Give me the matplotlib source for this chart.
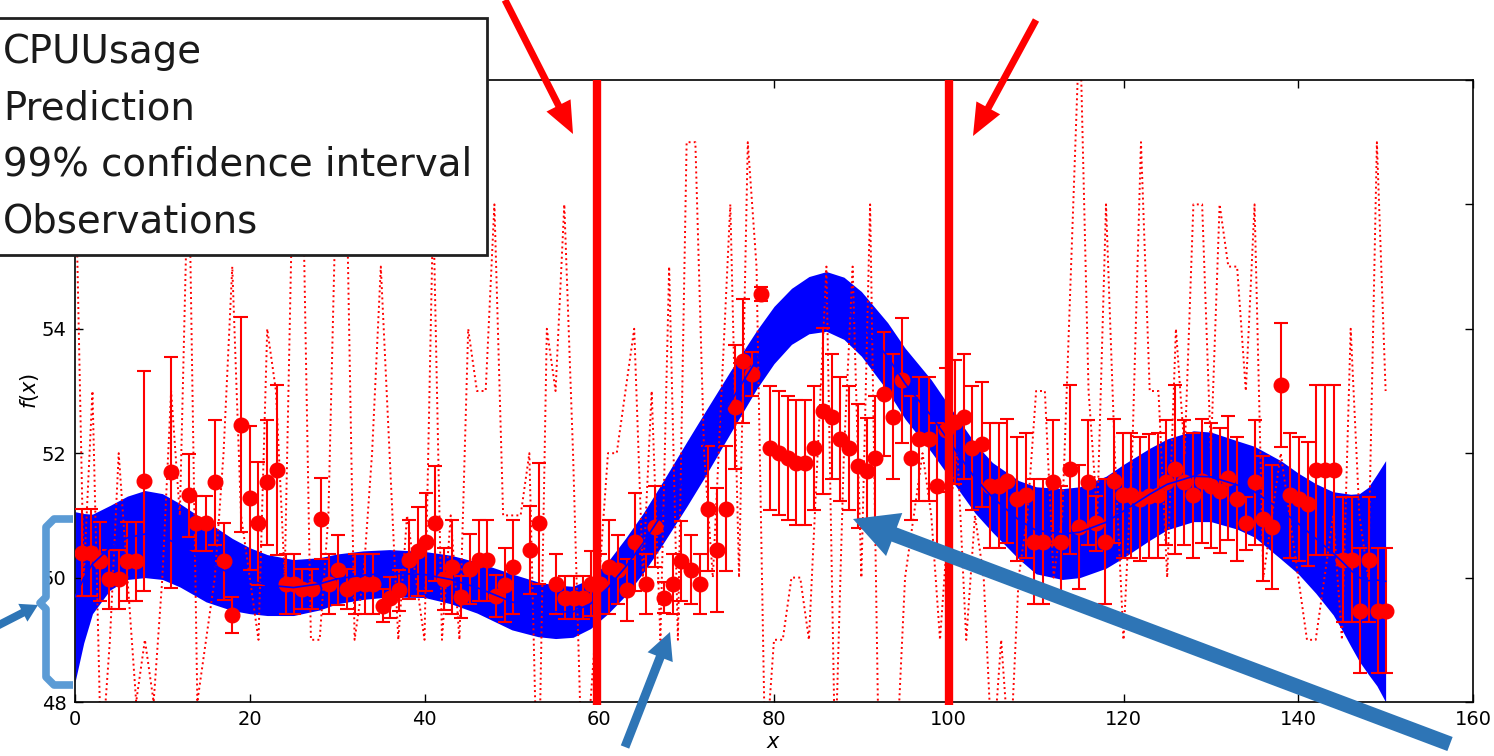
import numpy as np
import matplotlib
matplotlib.use('Agg')
import matplotlib.pyplot as plt
from matplotlib.patches import FancyArrow, Patch
from matplotlib.lines import Line2D

W, H = 1494, 756

# raw CPU usage, one sample per time step
cpu_t = np.arange(0, 151)
cpu_usage = [57, 50, 53, 47, 49, 52, 50, 48, 49, 48,
             50, 53, 51, 57, 48, 49, 50, 52, 55, 51,
             50, 49, 54, 53, 50, 57, 57, 49, 49, 51,
             57, 57, 49, 50, 52, 55, 52, 49, 51, 50,
             49, 56, 49, 51, 49, 54, 53, 53, 56, 51,
             51, 51, 52, 46, 54, 53, 56, 52, 47, 48,
             50, 52, 52, 53, 54, 50, 53, 49, 55, 49,
             57, 57, 52, 50, 53, 56, 50, 57, 55, 47,
             49, 49, 50, 50, 49, 52, 55, 47, 52, 55,
             50, 56, 47, 47, 47, 50, 51, 52, 51, 49,
             51, 52, 49, 51, 50, 47, 49, 47, 50, 51,
             53, 53, 50, 51, 55, 59, 53, 51, 56, 52,
             49, 52, 57, 53, 53, 50, 54, 52, 56, 56,
             52, 56, 55, 55, 53, 56, 50, 51, 52, 51,
             50, 49, 49, 50, 51, 49, 54, 51, 50, 57,
             53]

# averaged observations and their error bars
obs_t = [0.8, 1.8, 2.9, 3.9, 5.0, 6.0, 7.0, 7.9, 11.0, 13.0,
         13.9, 15.0, 16.0, 17.0, 18.0, 19.0, 20.0, 21.0, 22.0, 23.1,
         24.1, 25.1, 26.0, 27.1, 28.1, 29.1, 30.1, 31.1, 32.0, 33.2,
         34.1, 35.2, 36.1, 37.1, 38.2, 39.2, 40.2, 41.2, 42.2, 43.2,
         44.2, 45.2, 46.2, 47.2, 48.2, 49.2, 50.1, 52.1, 53.1, 55.1,
         56.1, 57.1, 58.1, 59.1, 60.1, 61.1, 62.1, 63.2, 64.1, 65.4,
         66.4, 67.4, 68.4, 69.4, 70.5, 71.5, 72.5, 73.5, 74.5, 75.5,
         76.5, 77.5, 78.5, 79.5, 80.6, 81.6, 82.5, 83.6, 84.6, 85.6,
         86.6, 87.5, 88.6, 89.6, 90.6, 91.6, 92.6, 93.6, 94.6, 95.7,
         96.6, 97.7, 98.7, 99.7, 100.7, 101.7, 102.7, 103.8, 104.7, 105.7,
         106.7, 107.8, 108.8, 109.8, 110.8, 111.9, 112.9, 113.9, 114.9, 115.9,
         116.9, 117.9, 118.9, 119.9, 120.9, 121.9, 122.9, 123.9, 124.9, 125.9,
         126.9, 127.9, 129.0, 130.0, 131.0, 132.0, 133.0, 134.0, 135.0, 136.0,
         137.0, 138.0, 139.0, 140.1, 141.1, 142.0, 143.1, 144.1, 145.1, 146.1,
         147.1, 148.1, 149.1, 150.1]
obs_mean = [50.40, 50.40, 50.26, 49.97, 49.97, 50.26, 50.26, 51.55, 51.69, 51.32,
            50.87, 50.87, 51.53, 50.26, 49.40, 52.46, 51.28, 50.87, 51.53, 51.73,
            49.90, 49.90, 49.82, 49.82, 50.95, 49.90, 50.12, 49.82, 49.90, 49.90,
            49.90, 49.55, 49.68, 49.80, 50.29, 50.42, 50.57, 50.87, 49.98, 50.17,
            49.69, 50.14, 50.28, 50.28, 49.70, 49.88, 50.17, 50.44, 50.87, 49.90,
            49.68, 49.68, 49.68, 49.90, 49.90, 50.17, 50.13, 49.80, 50.57, 49.90,
            50.82, 49.68, 49.90, 50.27, 50.13, 49.90, 51.11, 50.44, 51.11, 52.74,
            53.48, 53.27, 54.56, 52.08, 52.00, 51.92, 51.85, 51.85, 52.08, 52.68,
            52.59, 52.23, 52.08, 51.79, 51.71, 51.92, 52.95, 52.59, 53.17, 51.92,
            52.23, 52.23, 51.48, 52.37, 52.50, 52.59, 52.08, 52.14, 51.48, 51.48,
            51.55, 51.26, 51.32, 50.58, 50.58, 51.53, 50.58, 51.74, 50.81, 51.53,
            50.87, 50.58, 51.55, 51.32, 51.32, 51.26, 51.31, 51.32, 51.53, 51.74,
            51.53, 51.32, 51.55, 51.48, 51.40, 51.60, 51.26, 50.87, 51.53, 50.95,
            50.81, 53.10, 51.32, 51.26, 51.18, 51.73, 51.73, 51.73, 50.29, 50.29,
            49.47, 50.29, 49.47, 49.47]
obs_err = [0.70, 0.70, 0.63, 0.48, 0.48, 0.63, 0.63, 1.77, 1.85, 0.66,
           0.44, 0.44, 1.00, 0.62, 0.29, 1.73, 1.15, 0.99, 1.00, 1.36,
           0.48, 0.48, 0.32, 0.32, 0.65, 0.48, 0.56, 0.32, 0.48, 0.48,
           0.48, 0.26, 0.33, 0.33, 0.64, 0.71, 0.79, 0.93, 0.50, 0.75,
           0.34, 0.56, 0.65, 0.65, 0.34, 0.60, 0.75, 0.71, 0.97, 0.48,
           0.34, 0.34, 0.34, 0.52, 0.48, 0.75, 0.56, 0.50, 0.79, 0.48,
           0.65, 0.25, 0.48, 0.64, 0.56, 0.48, 1.00, 1.00, 1.00, 1.00,
           1.00, 0.35, 0.11, 1.00, 1.00, 1.00, 1.00, 1.00, 1.00, 1.33,
           1.00, 1.00, 1.00, 1.00, 0.86, 1.00, 1.00, 1.00, 1.00, 1.00,
           1.00, 1.00, 1.00, 1.00, 1.00, 1.00, 1.00, 1.00, 1.00, 1.00,
           1.00, 1.00, 1.00, 1.00, 1.00, 1.00, 0.90, 1.36, 1.00, 1.00,
           0.44, 1.00, 1.00, 1.00, 1.00, 1.00, 1.00, 1.00, 1.00, 1.36,
           1.00, 1.00, 1.00, 1.00, 1.00, 1.00, 1.00, 0.43, 1.00, 1.00,
           1.00, 1.00, 1.00, 1.00, 1.00, 1.36, 1.36, 1.36, 1.00, 1.00,
           1.00, 1.00, 1.00, 1.00]

# GP prediction and half-width of the 99% interval
grid_t = [0, 1, 2, 4, 6, 8, 10, 12, 15, 18,
          20, 22, 25, 28, 30, 33, 36, 40, 43, 46,
          50, 53, 55, 57, 59, 61, 63, 65, 67, 70,
          72, 75, 78, 80, 82, 84, 86, 88, 90, 93,
          95, 98, 100, 103, 105, 108, 110, 113, 115, 118,
          120, 123, 125, 128, 130, 133, 135, 138, 140, 142,
          144, 145, 146, 147, 148, 149, 150]
y_pred = [49.69, 49.99, 50.22, 50.48, 50.64, 50.70, 50.66, 50.52, 50.26, 50.05,
          49.95, 49.88, 49.84, 49.90, 49.98, 50.04, 50.07, 50.05, 49.97, 49.84,
          49.61, 49.49, 49.45, 49.45, 49.58, 49.84, 50.17, 50.55, 50.98, 51.66,
          52.12, 52.82, 53.50, 53.90, 54.20, 54.38, 54.44, 54.33, 54.08, 53.55,
          53.12, 52.60, 52.20, 51.60, 51.29, 50.93, 50.76, 50.70, 50.73, 50.89,
          51.07, 51.34, 51.50, 51.63, 51.62, 51.49, 51.38, 51.09, 50.87, 50.63,
          50.39, 50.26, 50.12, 50.00, 49.95, 49.96, 49.94]
ci99 = [1.37, 1.04, 0.80, 0.68, 0.67, 0.70, 0.69, 0.67, 0.65, 0.58,
        0.53, 0.49, 0.45, 0.42, 0.40, 0.39, 0.38, 0.37, 0.39, 0.41,
        0.45, 0.44, 0.43, 0.41, 0.40, 0.42, 0.46, 0.48, 0.50, 0.52,
        0.52, 0.50, 0.47, 0.46, 0.45, 0.46, 0.48, 0.50, 0.52, 0.55,
        0.57, 0.58, 0.57, 0.56, 0.56, 0.63, 0.70, 0.73, 0.73, 0.74,
        0.75, 0.74, 0.73, 0.73, 0.72, 0.71, 0.73, 0.79, 0.81, 0.88,
        0.99, 1.10, 1.22, 1.35, 1.50, 1.70, 1.94]

# window edges marked on the plot
window = [59.7, 100.0]


def px(x, y):
    """pixel position (from top-left) -> inches for dpi_scale_trans"""
    return x / 100.0, (H - y) / 100.0


def arrow(fig, tail, tip, width, head_w, head_l, color):
    x0, y0 = px(*tail)
    x1, y1 = px(*tip)
    a = FancyArrow(x0, y0, x1 - x0, y1 - y0, width=width / 100.0,
                   head_width=head_w / 100.0, head_length=head_l / 100.0,
                   length_includes_head=True, color=color, lw=0,
                   transform=fig.dpi_scale_trans)
    fig.add_artist(a)


fig = plt.figure(figsize=(W / 100, H / 100), dpi=100)
ax = fig.add_axes([75 / W, 1 - 702 / H, (1473 - 75) / W, (702 - 80) / H])

pred = np.array(y_pred)
half = np.array(ci99)
ax.fill_between(grid_t, pred - half, pred + half, color='b', lw=0, zorder=1)
ax.plot(cpu_t, cpu_usage, 'r:', lw=1.4, zorder=2)
ax.errorbar(obs_t, obs_mean, yerr=obs_err, fmt='o', color='r', ms=10.5,
            mec='r', elinewidth=1.5, capsize=5, capthick=1.5, zorder=3)
ax.plot(grid_t, pred, 'b-', lw=1.2, zorder=4)

for xv in window:
    ax.plot([xv, xv], [47.95, 58], color='r', lw=6, solid_capstyle='butt',
            clip_on=False, zorder=5)

ax.set_xlim(0, 160)
ax.set_ylim(48, 58)
ax.set_xticks(range(0, 161, 20))
# the two top labels sit under the legend box
ax.set_yticks(range(48, 59, 2), ['48', '50', '52', '54', '', ''])
ax.tick_params(direction='in', length=6, width=1, top=True, right=True,
               labelsize=14, pad=6)
for s in ax.spines.values():
    s.set_linewidth(1.2)
ax.set_xlabel('$x$', fontsize=15, labelpad=2)
ax.set_ylabel('$f(x)$', fontsize=15)
ax.yaxis.set_label_coords(-0.024, 0.5)

handles = [Line2D([], [], color='r', ls=':', lw=1.4),
           Line2D([], [], color='b', lw=1.2),
           Patch(color='b'),
           Line2D([], [], color='r', marker='o', ls='', ms=10)]
labels = ['CPUUsage', 'Prediction', '99% confidence interval', 'Observations']
leg = fig.legend(handles, labels, loc='upper right',
                 bbox_to_anchor=(487 / W, 1 - 18 / H), borderaxespad=0,
                 fontsize=27.8, labelspacing=0.48, borderpad=0.38,
                 fancybox=False, framealpha=1, edgecolor='#202020')
leg.get_frame().set_linewidth(2)
for t in leg.get_texts():
    t.set_color('#1a1a1a')

# callouts
red = '#ff0000'
arrow(fig, (505, 0), (573, 134), 7, 27, 32, red)
arrow(fig, (1036, 20), (973, 136), 7, 27, 32, red)
blue = '#2e75b6'
arrow(fig, (625, 747), (670, 632), 9, 27, 27, blue)
arrow(fig, (1450, 744), (853, 519), 15, 46, 44, blue)
arrow(fig, (-5, 627), (38, 605), 8, 20, 17, blue)

bx = [73, 54, 46, 46, 40, 46, 46, 54, 73]
by = [519, 519, 527, 597, 603, 609, 677, 685, 685]
xs, ys = zip(*[px(a, b) for a, b in zip(bx, by)])
fig.add_artist(Line2D(xs, ys, color='#5b9bd5', lw=5.5,
                      solid_joinstyle='round', solid_capstyle='butt',
                      transform=fig.dpi_scale_trans))

fig.savefig('out.png', dpi=100)
